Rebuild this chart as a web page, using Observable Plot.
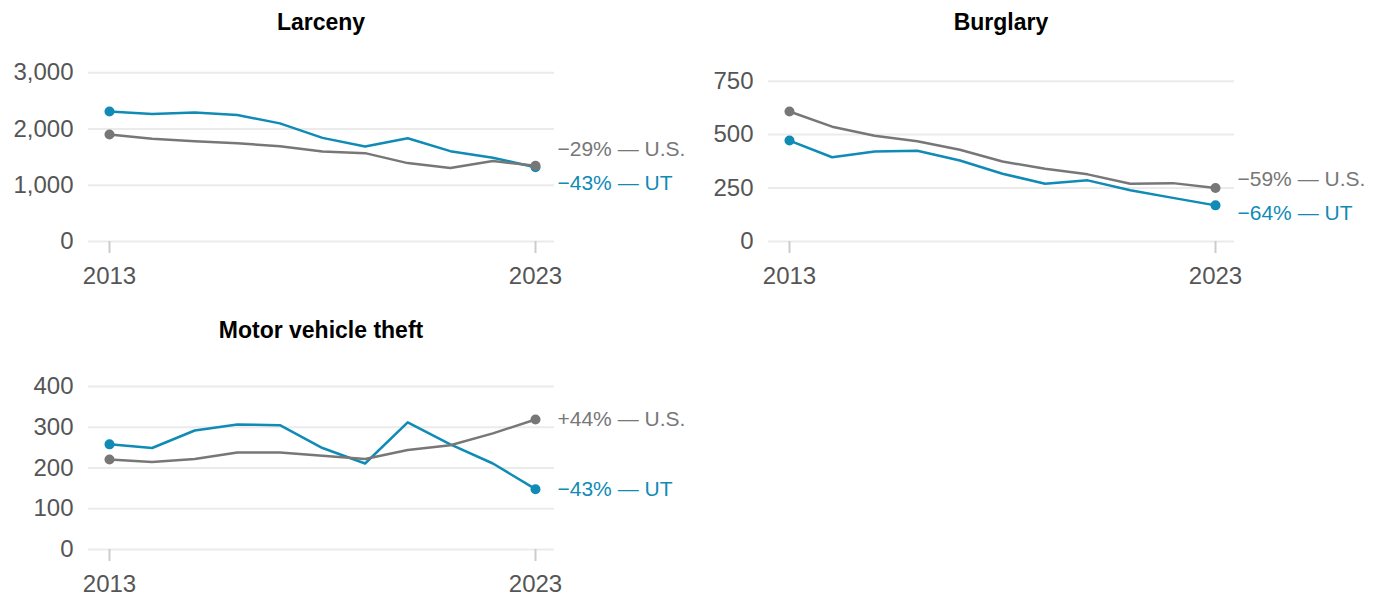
<!DOCTYPE html>
<html><head><meta charset="utf-8">
<script src="https://cdn.jsdelivr.net/npm/d3@7"></script>
<script src="https://cdn.jsdelivr.net/npm/@observablehq/plot@0.6"></script>
<style>
html,body{margin:0;padding:0;background:#fff;overflow:hidden}
#root{position:relative;width:1379px;height:597px;font-family:"Liberation Sans",Arial,sans-serif}
.panel{position:absolute;width:690px;height:300px}
.title{position:absolute;left:88px;width:466px;top:9px;text-align:center;font-weight:bold;font-size:23px;line-height:26px;color:#000}
.panel svg{position:absolute;left:0;top:40px;overflow:visible}
</style></head><body><div id="root"></div>
<script>
const years = [2013, 2014, 2015, 2016, 2017, 2018, 2019, 2020, 2021, 2022, 2023];
const xTicks = [2013, 2023];

const larcenyUT = [2310, 2265, 2293, 2247, 2099, 1841, 1688, 1834, 1605, 1488, 1320];
const larcenyUS = [1900, 1824, 1781, 1746, 1693, 1600, 1570, 1393, 1305, 1429, 1347];
const larcenyTicks = [0, 1000, 2000, 3000];
const larcenyLabels = ["−29% — U.S.", "−43% — UT"];

const burglaryUT = [472, 394, 421, 424, 379, 317, 270, 286, 240, 204, 169];
const burglaryUS = [608, 537, 495, 469, 429, 374, 340, 314, 270, 273, 250];
const burglaryTicks = [0, 250, 500, 750];
const burglaryLabels = ["−59% — U.S.", "−64% — UT"];

const mvtUT = [258, 249, 292, 307, 305, 249, 211, 312, 258, 211, 148];
const mvtUS = [221, 215, 222, 238, 238, 230, 222, 244, 256, 285, 319];
const mvtTicks = [0, 100, 200, 300, 400];
const mvtLabels = ["+44% — U.S.", "−43% — UT"];

const titles = ["Larceny", "Burglary", "Motor vehicle theft"];
const seriesNames = ["US", "UT"];
const seriesColors = ["#777777", "#0f8bb6"];

function panel(title, ut, us, yTicks, labels, left, top) {
  const W = 690, H = 260, mL = 88, mR = 136, mT = 32, mB = 59;
  const ymax = Math.max(d3.max(ut), d3.max(us)) * 1.3;
  const data = [];
  years.forEach((yr, i) => data.push({year: yr, v: ut[i], s: "UT"}));
  years.forEach((yr, i) => data.push({year: yr, v: us[i], s: "US"}));
  const ends = data.filter(d => d.year === years[0] || d.year === years[years.length - 1]);
  const last = years.length - 1;
  // dodge end labels
  const ys = d3.scaleLinear([0, ymax], [H - mB, mT]);
  let pUS = ys(us[last]), pUT = ys(ut[last]);
  let tUS = pUS, tUT = pUT;
  const gap = 34;
  if (Math.abs(pUS - pUT) < gap) {
    const mid = (pUS + pUT) / 2;
    if (pUS <= pUT) { tUS = mid - gap / 2; tUT = mid + gap / 2; }
    else { tUT = mid - gap / 2; tUS = mid + gap / 2; }
  }
  const endUS = [{year: years[last], v: us[last], t: labels[0]}];
  const endUT = [{year: years[last], v: ut[last], t: labels[1]}];

  const plot = Plot.plot({
    width: W, height: H,
    marginLeft: mL, marginRight: mR, marginTop: mT, marginBottom: mB,
    style: {fontFamily: '"Liberation Sans", Arial, sans-serif', fontSize: "24px", background: "transparent"},
    x: {domain: [years[0], years[last]], insetLeft: 21, insetRight: 19, label: null},
    y: {domain: [0, ymax], label: null},
    color: {domain: seriesNames, range: seriesColors},
    marks: [
      Plot.ruleY(yTicks, {stroke: "#ebebeb", strokeWidth: 2}),
      Plot.axisY({ticks: yTicks, tickSize: 0, tickPadding: 15, tickFormat: d3.format(","), fontSize: 24, fill: "#555", label: null}),
      Plot.axisX({ticks: xTicks, tickSize: 12, tickPadding: 13, tickFormat: d => String(d), fontSize: 24, fill: "#555", stroke: "#cccccc", strokeWidth: 2, label: null}),
      Plot.line(data, {x: "year", y: "v", z: "s", stroke: "s", strokeWidth: 2.5}),
      Plot.dot(ends, {x: "year", y: "v", fill: "s", r: 5}),
      Plot.text(endUS, {x: "year", y: "v", text: "t", textAnchor: "start", dx: 22, dy: tUS - pUS, fill: seriesColors[0], fontSize: 21}),
      Plot.text(endUT, {x: "year", y: "v", text: "t", textAnchor: "start", dx: 22, dy: tUT - pUT, fill: seriesColors[1], fontSize: 21})
    ]
  });
  const div = document.createElement("div");
  div.className = "panel";
  div.style.left = left + "px";
  div.style.top = top + "px";
  const t = document.createElement("div");
  t.className = "title";
  t.textContent = title;
  div.appendChild(t);
  div.appendChild(plot);
  document.getElementById("root").appendChild(div);
}

panel(titles[0], larcenyUT, larcenyUS, larcenyTicks, larcenyLabels, 0, 0);
panel(titles[1], burglaryUT, burglaryUS, burglaryTicks, burglaryLabels, 680, 0);
panel(titles[2], mvtUT, mvtUS, mvtTicks, mvtLabels, 0, 308);
</script></body></html>
